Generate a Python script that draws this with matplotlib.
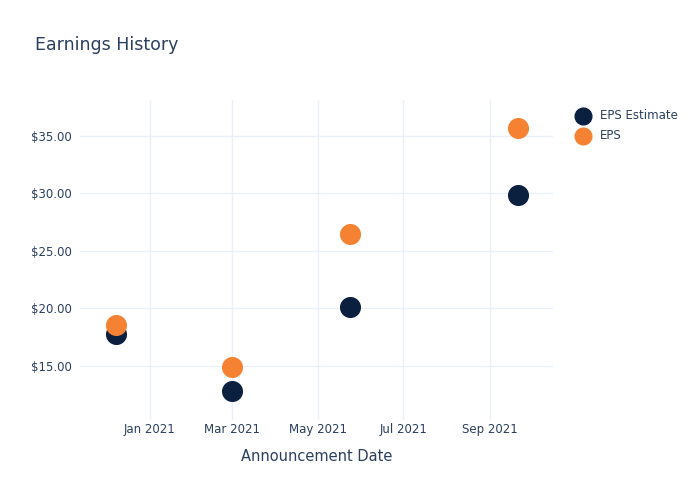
import matplotlib
matplotlib.use("Agg")
import matplotlib.pyplot as plt
import matplotlib.dates as mdates
import numpy as np

# datos
fechas = ["2020-12-08", "2021-03-01", "2021-05-24", "2021-09-21"]
eps_estimado = [17.75, 12.83, 20.13, 29.87]
eps_real = [18.57, 14.91, 26.48, 35.70]

texto = "#2a3f5f"
grilla = "#EBF0F8"

fig = plt.figure(figsize=(7, 5), dpi=100)
ax = fig.add_axes([0.114, 0.16, 0.676, 0.64])
x = np.array(fechas, dtype="datetime64[D]")

ax.scatter(x, eps_estimado, s=200, color="#0B1F3F", label="EPS Estimate", zorder=3)
ax.scatter(x, eps_real, s=200, color="#F58233", label="EPS", zorder=3)

ax.set_xlim(np.datetime64("2020-11-12"), np.datetime64("2021-10-16"))
ax.set_ylim(10.3, 38.1)
ax.set_yticks([15, 20, 25, 30, 35])
ax.yaxis.set_major_formatter(plt.FuncFormatter(lambda v, p: f"${v:.2f}"))
ax.xaxis.set_major_locator(mdates.MonthLocator(bymonth=[1, 3, 5, 7, 9]))
ax.xaxis.set_major_formatter(mdates.DateFormatter("%b %Y"))

ax.grid(True, color=grilla, linewidth=1)
ax.set_axisbelow(True)
for s in ax.spines.values():
    s.set_visible(False)
ax.tick_params(axis="x", length=0, labelsize=8.5, colors=texto, pad=2.5)
ax.tick_params(axis="y", length=0, labelsize=8.5, colors=texto, pad=6)

ax.set_xlabel("Announcement Date", fontsize=10.5, color=texto, labelpad=9)
fig.text(0.05, 0.91, "Earnings History", fontsize=12.5, color=texto, va="center")

ax.legend(loc="upper left", bbox_to_anchor=(1.015, 1.005), frameon=False,
          fontsize=8.5, labelcolor=texto, handletextpad=0.5, markerscale=0.85,
          labelspacing=0.6)

fig.savefig("out.png", dpi=100)
